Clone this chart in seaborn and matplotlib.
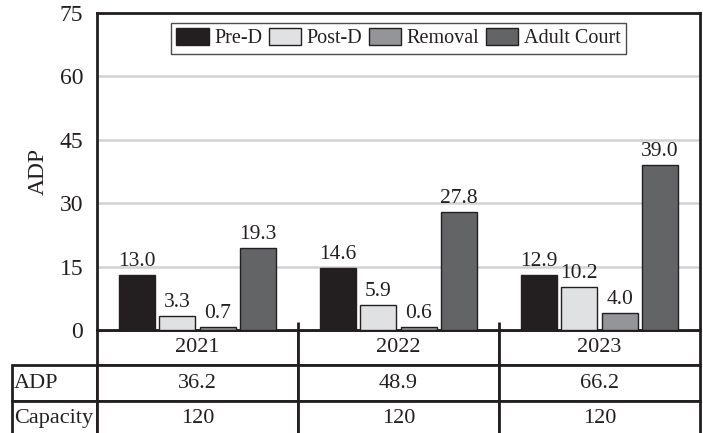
import numpy as np
import pandas as pd
import matplotlib.pyplot as plt
import seaborn as sns

sns.set_style("white")
plt.rcParams['font.family'] = ['Liberation Serif', 'DejaVu Serif']

# --- Data ---
years = ["2021", "2022", "2023"]
types = ["Pre-D", "Post-D", "Removal", "Adult Court"]
pre_d = [13.0, 14.6, 12.9]
post_d = [3.3, 5.9, 10.2]
removal = [0.7, 0.6, 4.0]
adult_court = [19.3, 27.8, 39.0]
adp_total = ["36.2", "48.9", "66.2"]
capacity = ["120", "120", "120"]
y_ticks = [0, 15, 30, 45, 60, 75]

colors = ["#231f20", "#e0e1e3", "#939598", "#636466"]
text_color = "#231f20"

df = pd.DataFrame({
    "Year": np.repeat(years, len(types)),
    "Type": types * len(years),
    "ADP": np.ravel(np.column_stack([pre_d, post_d, removal, adult_court])),
})

fig = plt.figure(figsize=(7.03, 4.33), dpi=100)
W, H = 703, 433
ax = fig.add_axes([97 / W, 1 - 330 / H, 603 / W, 317 / H])

sns.barplot(data=df, x="Year", y="ADP", hue="Type", hue_order=types, order=years,
            palette=colors, edgecolor=text_color, linewidth=1.0, width=0.8, gap=0.1,
            saturation=1, errorbar=None, ax=ax, zorder=3)

for cont in ax.containers:
    ax.bar_label(cont, fmt="%.1f", padding=3, fontsize=15.5, color=text_color)

# --- Axes styling ---
ax.set_ylim(0, 75)
ax.set_xlim(-0.5, len(years) - 0.5)
ax.set_yticks(y_ticks)
ax.set_yticklabels([str(t) for t in y_ticks], fontsize=17, color=text_color)
ax.tick_params(axis="y", length=0, pad=10)
ax.set_xticks([])
ax.set_xlabel("")
ax.set_ylabel("ADP", fontsize=17, color=text_color, labelpad=8)
ax.yaxis.grid(True, color="#d1d2d4", linewidth=1.8, zorder=0)
ax.set_axisbelow(True)
for side in ["left", "top", "right", "bottom"]:
    ax.spines[side].set_visible(True)
    ax.spines[side].set_color(text_color)
    ax.spines[side].set_linewidth(2)

# little separators between categories
ax.vlines(np.arange(len(years) - 1) + 0.5, 0, 2.0, color=text_color, linewidth=2, zorder=4)

# --- Legend ---
leg = ax.legend(loc="upper center", bbox_to_anchor=(0.5, 0.968), ncol=4, fontsize=14.5,
                frameon=True, fancybox=False, handlelength=1.6, handleheight=0.9,
                handletextpad=0.3, columnspacing=0.3, borderpad=0.25, borderaxespad=0)
leg.get_frame().set_edgecolor(text_color)
leg.get_frame().set_linewidth(1.0)
for t in leg.get_texts():
    t.set_color(text_color)

# --- Table below the chart ---
label_w = 85 / 603
cell_text = [[""] + years, ["ADP"] + adp_total, ["Capacity"] + capacity]
tbl = ax.table(cellText=cell_text, cellLoc="center",
               colWidths=[label_w] + [1 / len(years)] * len(years),
               bbox=[-label_w, -(436 - 330) / 317, 1 + label_w, (436 - 330) / 317])
tbl.auto_set_font_size(False)
tbl.set_fontsize(16)
for (r, c), cell in tbl.get_celld().items():
    cell.set_edgecolor(text_color)
    cell.set_linewidth(2)
    cell.get_text().set_color(text_color)
    if c == 0:
        cell.get_text().set_ha("left")
        cell.PAD = 0.02
        cell._loc = "left"
    if r == 0 and c == 0:
        cell.visible_edges = ""

fig.savefig("out.png", dpi=100)
